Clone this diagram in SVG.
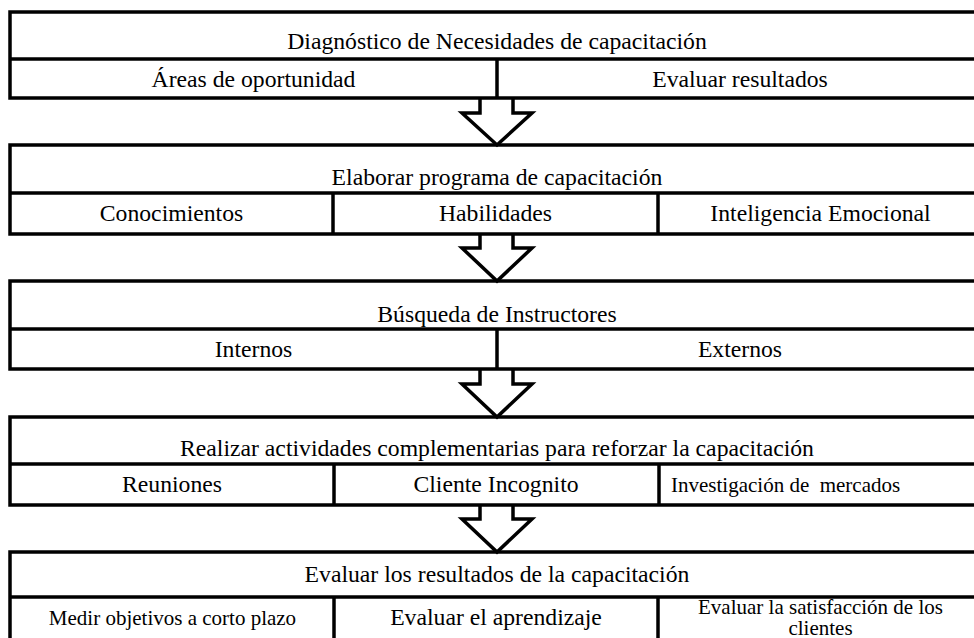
<svg xmlns="http://www.w3.org/2000/svg" width="974" height="638" viewBox="0 0 974 638" font-family="Liberation Serif, Times New Roman, serif">
<style>
.box{fill:none;stroke:#000;stroke-width:3.5}
.ln{stroke:#000;stroke-width:3.5;fill:none}
.arr{fill:#fff;stroke:#000;stroke-width:3.5;stroke-linejoin:miter;stroke-miterlimit:10}
text{font-family:'Liberation Serif','Times New Roman',serif;fill:#000;text-anchor:middle}
.t{font-size:23.7px}
.s{font-size:21px}
</style>
<rect width="974" height="638" fill="#fff"/>
<g id="connectors">
<path class="arr" d="M480,98 V113 H462 L497,145 L532,113 H513 V98"/>
<path class="arr" d="M480,234 V248 H462 L497,281 L532,248 H513 V234"/>
<path class="arr" d="M480,369 V384 H462 L497,417 L532,384 H513 V369"/>
<path class="arr" d="M480,505 V519 H462 L497,552 L532,519 H513 V505"/>
</g>
<g id="n1">
<rect class="box" x="10" y="12" width="973" height="86"/>
<line class="ln" x1="10" y1="59" x2="983" y2="59"/>
<line class="ln" x1="497" y1="59" x2="497" y2="98"/>
<text class="t" x="497" y="49" font-family="Liberation Serif, serif">Diagnóstico de Necesidades de capacitación</text>
<text class="t" x="253.5" y="87" font-family="Liberation Serif, serif">Áreas de oportunidad</text>
<text class="t" x="740" y="87" font-family="Liberation Serif, serif">Evaluar resultados</text>
</g>
<g id="n2">
<rect class="box" x="10" y="145" width="973" height="89"/>
<line class="ln" x1="10" y1="193" x2="983" y2="193"/>
<line class="ln" x1="333" y1="193" x2="333" y2="234"/>
<line class="ln" x1="658" y1="193" x2="658" y2="234"/>
<text class="t" x="497" y="185" font-family="Liberation Serif, serif">Elaborar programa de capacitación</text>
<text class="t" x="171.5" y="221" font-family="Liberation Serif, serif">Conocimientos</text>
<text class="t" x="495.5" y="221" font-family="Liberation Serif, serif">Habilidades</text>
<text class="t" x="820.5" y="221" font-family="Liberation Serif, serif">Inteligencia Emocional</text>
</g>
<g id="n3">
<rect class="box" x="10" y="281" width="973" height="88"/>
<line class="ln" x1="10" y1="329" x2="983" y2="329"/>
<line class="ln" x1="497" y1="329" x2="497" y2="369"/>
<text class="t" x="497" y="322" font-family="Liberation Serif, serif">Búsqueda de Instructores</text>
<text class="t" x="253.5" y="357" font-family="Liberation Serif, serif">Internos</text>
<text class="t" x="740" y="357" font-family="Liberation Serif, serif">Externos</text>
</g>
<g id="n4">
<rect class="box" x="10" y="417" width="973" height="88"/>
<line class="ln" x1="10" y1="464" x2="983" y2="464"/>
<line class="ln" x1="334" y1="464" x2="334" y2="505"/>
<line class="ln" x1="659" y1="464" x2="659" y2="505"/>
<text class="t" x="497" y="456" font-family="Liberation Serif, serif">Realizar actividades complementarias para reforzar la capacitación</text>
<text class="t" x="172" y="492" font-family="Liberation Serif, serif">Reuniones</text>
<text class="t" x="496" y="492" font-family="Liberation Serif, serif">Cliente Incognito</text>
<text class="s" x="671" y="492" font-family="Liberation Serif, serif" style="text-anchor:start;white-space:pre" xml:space="preserve">Investigación de  mercados</text>
</g>
<g id="n5">
<rect class="box" x="10" y="552" width="973" height="100"/>
<line class="ln" x1="10" y1="597" x2="983" y2="597"/>
<line class="ln" x1="334" y1="597" x2="334" y2="652"/>
<line class="ln" x1="658" y1="597" x2="658" y2="652"/>
<text class="t" x="497" y="582" font-family="Liberation Serif, serif">Evaluar los resultados de la capacitación</text>
<text class="s" x="172.5" y="625" font-family="Liberation Serif, serif">Medir objetivos a corto plazo</text>
<text class="t" x="496" y="625" font-family="Liberation Serif, serif">Evaluar el aprendizaje</text>
<text class="s" x="820.5" y="614" font-family="Liberation Serif, serif">Evaluar la satisfacción de los</text>
<text class="s" x="820.5" y="635" font-family="Liberation Serif, serif">clientes</text>
</g>
</svg>
